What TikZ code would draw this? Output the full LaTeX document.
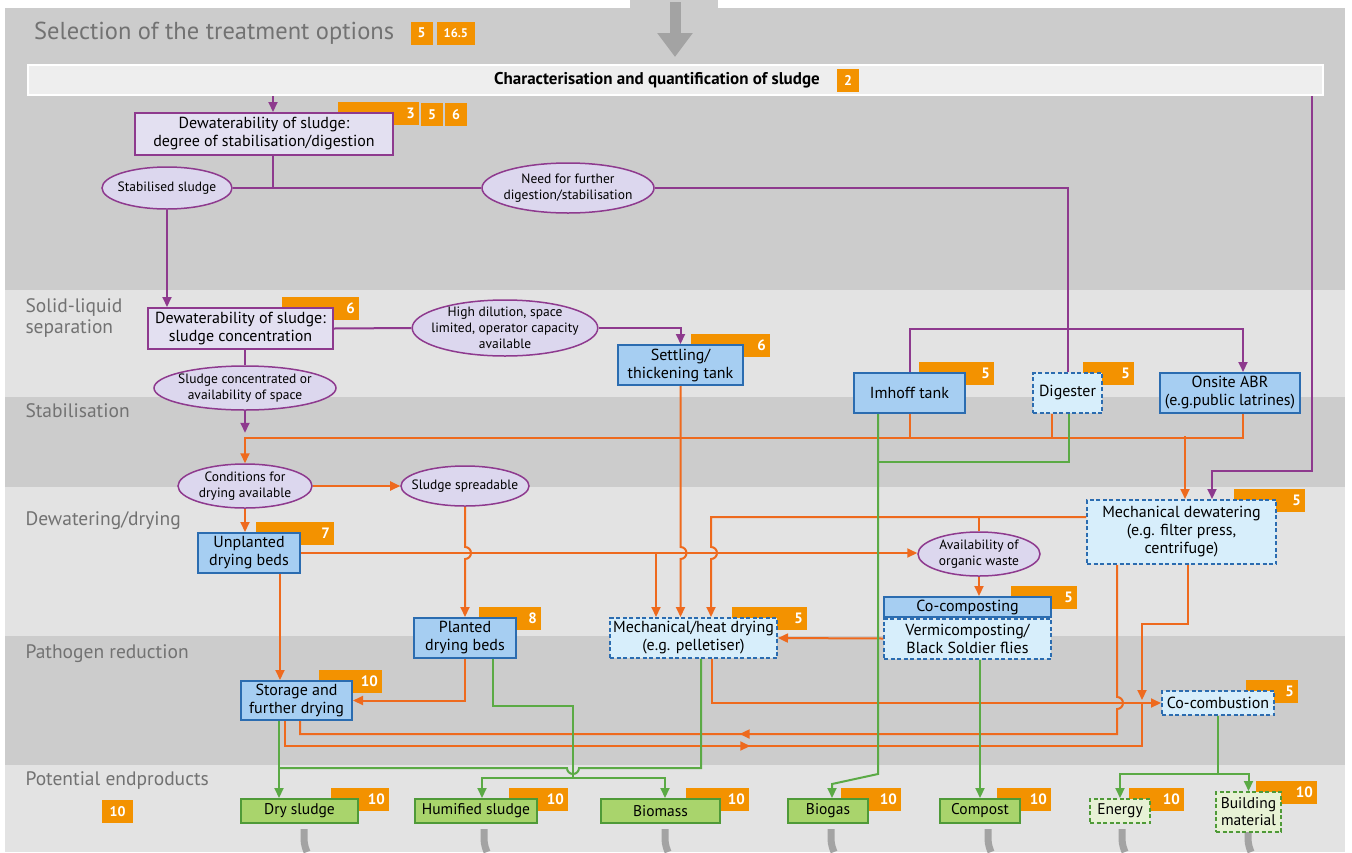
\documentclass[tikz,border=0pt]{standalone}
\usepackage{fontspec}
\setmainfont{PT Sans}
\usetikzlibrary{shapes.geometric,arrows.meta,calc,positioning,decorations.markings}

\definecolor{purp}{HTML}{8E3A8E}
\definecolor{lav}{HTML}{E3E0F1}
\definecolor{lavell}{HTML}{DCD7EE}
\definecolor{orl}{HTML}{EE6A1E}
\definecolor{tabc}{HTML}{F39200}
\definecolor{bluef}{HTML}{A6CEF2}
\definecolor{blued}{HTML}{2B6CB0}
\definecolor{bluel}{HTML}{D7EEFB}
\definecolor{grn}{HTML}{5BAA45}
\definecolor{grnf}{HTML}{A9D46C}
\definecolor{grnd}{HTML}{4F9A38}
\definecolor{grnl}{HTML}{E7F2D5}
\definecolor{bandd}{HTML}{CCCCCC}
\definecolor{bandl}{HTML}{E3E3E3}
\definecolor{lbl}{HTML}{727272}
\definecolor{pipe}{HTML}{A3A3A3}

\pgfdeclarelayer{bg}
\pgfdeclarelayer{tabs}
\pgfsetlayers{bg,tabs,main}

% orange chapter tab behind a box: node, number, width, right offset
\newcommand\numtab[4]{%
  \begin{pgfonlayer}{tabs}
    \fill[tabc] ($(#1.north east)+(#4-#3,-10)$) rectangle ($(#1.north east)+(#4,13)$);
    \node[tabtxt, anchor=east] at ($(#1.north east)+(#4-4,1.5)$) {#2};
  \end{pgfonlayer}}

\begin{document}
\begin{tikzpicture}[x=1pt, y=-1pt,
    box/.style={rectangle, line width=2pt, align=center, inner sep=1pt, font=\fontsize{16}{18}\selectfont},
    pbox/.style={box, draw=purp, fill=lav},
    bbox/.style={box, draw=blued, fill=bluef},
    dbox/.style={box, draw=blued, fill=bluel, dash pattern=on 4pt off 2.5pt},
    gbox/.style={box, draw=grnd, fill=grnf, font=\fontsize{15.5}{17}\selectfont},
    gdbox/.style={box, draw=grnd, fill=grnl, dash pattern=on 4pt off 2.5pt, font=\fontsize{15.5}{17}\selectfont},
    oval/.style={ellipse, draw=purp, fill=lavell, line width=1.5pt, align=center, inner xsep=-8pt, inner ysep=-5pt, font=\fontsize{13.5}{16}\selectfont},
    tabtxt/.style={text=white, font=\bfseries\fontsize{15}{15}\selectfont, inner sep=0pt},
    sq/.style={fill=tabc, text=white, font=\bfseries\fontsize{14}{14}\selectfont, minimum height=23pt, minimum width=22pt, inner sep=2pt},
    band/.style={font=\fontsize{19.5}{21}\selectfont, text=lbl, align=left, anchor=west},
    pl/.style={draw=purp, line width=2pt},
    ol/.style={draw=orl, line width=2pt},
    gl/.style={draw=grn, line width=2pt},
    tip/.style={-{Triangle[length=10pt,width=9pt]}},
    midarrow/.style={postaction=decorate, decoration={markings,
        mark=at position #1 with {\arrow{Triangle[length=10pt,width=9pt]}}}}]

  \useasboundingbox (0,0) rectangle (1352,852);

  % bands
  \begin{pgfonlayer}{bg}
    \fill[white] (0,0) rectangle (1352,852);
    \fill[bandd] (5,8) rectangle (1345,290);
    \fill[bandl] (5,290) rectangle (1345,397);
    \fill[bandd] (5,397) rectangle (1345,487);
    \fill[bandl] (5,487) rectangle (1345,636);
    \fill[bandd] (5,636) rectangle (1345,765);
    \fill[bandl] (5,765) rectangle (1345,852);
    \fill[bandd] (630,0) rectangle (718,8);
    \draw[pipe, line width=11pt, -{Triangle[length=24pt,width=34pt]}] (675,2) -- (675,57);
    \foreach \x in {304,484,665,831,988,1122,1248}
      \draw[pipe, line width=7pt] (\x,829) .. controls (\x,844) .. (\x+3,852);
  \end{pgfonlayer}

  \node[band] (lsl) at (22,318) {Solid-liquid\\separation};
  \node[band] (lst) at (22,411) {Stabilisation};
  \node[band] (ldw) at (22,521) {Dewatering/drying};
  \node[band] (lpr) at (22,654) {Pathogen reduction};
  \node[band] (lpe) at (22,781) {Potential endproducts};
  \node[sq, minimum width=31pt] (s10) at (117.5,811.5) {10};

  % title
  \node[anchor=west, font=\fontsize{24.5}{27}\selectfont, text=lbl, inner sep=0pt] (title) at (34,33) {Selection of the treatment options};
  \node[sq, right=16pt of title] (t5) {5};
  \node[sq, right=4pt of t5, minimum width=38pt, font=\bfseries\fontsize{12.5}{12.5}\selectfont] (t165) {16.5};

  % characterisation
  \node[fill=bandl!60, draw=white, line width=2pt, minimum width=1295pt, minimum height=30pt] (char) at (675.5,80) {};
  \node[anchor=east, font=\bfseries\fontsize{17}{19}\selectfont, inner sep=0pt] (chartxt) at (820,80) {Characterisation and quantification of sludge};
  \node[sq] (c2) at (848,80) {2};

  % boxes and ovals
  \node[pbox, minimum width=258pt, minimum height=42pt] (dewat1) at (264,134) {Dewaterability of sludge:\\degree of stabilisation/digestion};
  \node[sq] (d5) at (432,114.5) {5};
  \node[sq] (d6) at (456,114.5) {6};
  \node[oval, minimum width=130pt, minimum height=42pt] (stab) at (167,188) {Stabilised sludge};
  \node[oval, minimum width=172pt, minimum height=50pt] (need) at (568,188) {Need for further\\digestion/stabilisation};
  \node[pbox, minimum width=185pt, minimum height=41pt] (dewat2) at (240.5,328.5) {Dewaterability of sludge:\\sludge concentration};
  \node[oval, minimum width=182pt, minimum height=56pt] (dilution) at (505,328) {High dilution, space\\limited, operator capacity\\available};
  \node[oval, minimum width=182pt, minimum height=44pt] (conc) at (245,388) {Sludge concentrated or\\availability of space};
  \node[bbox, minimum width=125pt, minimum height=40pt] (settle) at (680.5,365) {Settling/\\thickening tank};
  \node[bbox, minimum width=111pt, minimum height=40pt] (imhoff) at (909.5,393) {Imhoff tank};
  \node[dbox, minimum width=69pt, minimum height=40pt] (digester) at (1067.5,393) {Digester};
  \node[bbox, minimum width=140pt, minimum height=40pt] (abr) at (1230,393) {Onsite ABR\\(e.g.public latrines)};
  \node[oval, minimum width=134pt, minimum height=44pt] (cond) at (245,486) {Conditions for\\drying available};
  \node[oval, minimum width=128pt, minimum height=40pt] (spread) at (465,486) {Sludge spreadable};
  \node[bbox, minimum width=102pt, minimum height=40pt] (unpl) at (249,553) {Unplanted\\drying beds};
  \node[dbox, minimum width=189pt, minimum height=64pt] (mdew) at (1181.5,532) {Mechanical dewatering\\(e.g. filter press,\\centrifuge)};
  \node[oval, minimum width=122pt, minimum height=44pt] (organic) at (979,554) {Availability of\\organic waste};
  \node[bbox, minimum width=102pt, minimum height=40pt] (planted) at (465,638) {Planted\\drying beds};
  \node[dbox, minimum width=167pt, minimum height=40pt] (mdry) at (693.5,638) {Mechanical/heat drying\\(e.g. pelletiser)};
  \node[bbox, minimum width=167pt, minimum height=20pt] (cocomp) at (967.5,607) {Co-composting};
  \node[dbox, minimum width=167pt, minimum height=40pt] (vermi) at (967.5,638.5) {Vermicomposting/\\Black Soldier flies};
  \node[bbox, minimum width=111pt, minimum height=39pt] (storage) at (296.5,700.5) {Storage and\\further drying};
  \node[dbox, minimum width=112pt, minimum height=24pt] (cocomb) at (1218,703) {Co-combustion};

  % endproducts
  \node[gbox, minimum width=117pt, minimum height=24pt] (dry) at (299.5,811) {Dry sludge};
  \node[gbox, minimum width=122pt, minimum height=24pt] (humified) at (476,811) {Humified sludge};
  \node[gbox, minimum width=119pt, minimum height=24pt] (biomass) at (660.5,811) {Biomass};
  \node[gbox, minimum width=80pt, minimum height=24pt] (biogas) at (828,811) {Biogas};
  \node[gbox, minimum width=80pt, minimum height=24pt] (compost) at (980,811) {Compost};
  \node[gdbox, minimum width=60pt, minimum height=24pt] (energy) at (1120,811) {Energy};
  \node[gdbox, minimum width=65pt, minimum height=40pt] (building) at (1248.5,812) {Building\\material};

  % tabs
  \numtab{dewat1}{3}{81}{25}
  \numtab{dewat2}{6}{77}{25}
  \numtab{settle}{6}{79}{26}
  \numtab{imhoff}{5}{75}{28}
  \numtab{digester}{5}{51}{31}
  \numtab{unpl}{7}{78}{33}
  \numtab{mdew}{5}{71}{28}
  \numtab{planted}{8}{62}{24}
  \numtab{mdry}{5}{75}{29}
  \numtab{cocomp}{5}{66}{25}
  \numtab{storage}{10}{63}{29}
  \numtab{cocomb}{5}{52}{23}
  \numtab{dry}{10}{58}{30}
  \numtab{humified}{10}{59}{30}
  \numtab{biomass}{10}{63}{28}
  \numtab{biogas}{10}{60}{32}
  \numtab{compost}{10}{54}{30}
  \numtab{energy}{10}{55}{33}
  \numtab{building}{10}{61}{35}

  % purple decisions
  \draw[pl, tip] ($(char.south -| dewat1.north)+(9,0)$) -- ($(dewat1.north)+(9,0)$);
  \draw[pl] ($(dewat1.south)+(9,0)$) -- ($(dewat1.south |- stab.east)+(9,0)$);
  \draw[pl] (stab.east) -- (need.west);
  \draw[pl] (need.east) -| (digester.north);
  \draw[pl, tip] (stab.south) -- (stab.south |- dewat2.north);
  \draw[pl] (dewat2.east) -- (dilution.west);
  \draw[pl, tip] (dilution.east) -| (settle.north);
  \draw[pl] (dewat2.south -| conc.north) -- (conc.north);
  \draw[pl, tip] (conc.south) -- ++(0,22);
  \draw[pl, tip] (imhoff.north) -- ++(0,-43) -| ($(abr.north)+(13,0)$);
  \draw[pl, tip] ($(char.south east)+(-12,0)$) -- ++(0,375) -| ($(mdew.north)+(30.5,0)$);

  % orange sludge flows
  \draw[ol, tip] ($(abr.south)+(13,0)$) -- ++(0,24) -| (cond.north);
  \draw[ol] (imhoff.south) -- ++(0,24);
  \draw[ol] ($(digester.south)+(-16,0)$) -- ++(0,24);
  \draw[ol, tip] ($(mdew.north)+(3.5,-63)$) -- ($(mdew.north)+(3.5,0)$);
  \draw[ol, tip] (cond.east) -- (spread.west);
  \draw[ol, tip] (cond.south) -- (cond.south |- unpl.north);
  \draw[ol, tip] (unpl.east) -- (unpl.east -| organic.west);
  \draw[ol, tip] ($(mdry.north |- unpl.east)+(-37.5,0)$) -- ($(mdry.north)+(-37.5,0)$);
  \draw[ol, tip] (spread.south) -- ($(spread.south |- unpl.east)+(0,-6)$)
    arc[start angle=-90, end angle=90, radius=6] -- (planted.north);
  \draw[ol, tip] (settle.south) -- ($(settle.south |- unpl.east)+(0,-6)$)
    arc[start angle=-90, end angle=90, radius=6] -- (settle.south |- mdry.north);
  \draw[ol, tip] ($(mdew.north west)+(0,18)$) -- ($(mdry.north)+(17.5,-100)$)
    -- ($(mdry.north |- unpl.east)+(17.5,-6)$) arc[start angle=-90, end angle=90, radius=6]
    -- ($(mdry.north)+(17.5,0)$);
  \draw[ol] (organic.north) -- ++(0,-14);
  \draw[ol, tip] (organic.south) -- (organic.south |- cocomp.north);
  \draw[ol, tip] (vermi.west) -- (mdry.east);
  \draw[ol, tip] ($(unpl.south)+(31,0)$) coordinate (u1) -- (u1 |- storage.north);
  \draw[ol, tip] (planted.south) |- (storage.east);
  \draw[ol, midarrow=0.55] ($(mdew.south west)+(31,0)$) coordinate (m1)
    -- ($(m1 |- cocomb.west)+(0,-6)$) arc[start angle=-90, end angle=90, radius=6]
    -- ($(m1 |- storage.south)+(0,13)$) -- ($(storage.south)+(3.5,13)$) -- ($(storage.south)+(3.5,0)$);
  \draw[ol, midarrow=0.53] ($(storage.south)+(-11.5,0)$) -- ++(0,25) -| ($(cocomb.west)+(-19,0)$);
  \draw[ol, tip] ($(mdew.south)+(6.5,0)$) -- ++(0,59) -| ($(cocomb.west)+(-19,-3)$);
  \draw[ol, tip] ($(mdry.south)+(18.5,0)$) |- (cocomb.west);

  % green endproduct flows
  \coordinate (gk) at (573,768);
  \coordinate (gj) at (573,778);
  \draw[gl, tip] ($(imhoff.south)+(-31.5,0)$) coordinate (g1) -- ($(g1 |- biogas.north)+(0,-24)$)
    -- ($(biogas.north)+(4,-14)$) -- ($(biogas.north)+(4,0)$);
  \draw[gl] ($(digester.south)+(1.5,0)$) |- ($(g1)+(0,48)$);
  \draw[gl, tip] (compost.north |- vermi.south) -- (compost.north);
  \draw[gl, tip] (cocomb.south) -- ++(0,58) coordinate (g2) -| (energy.north);
  \draw[gl, tip] (g2) -| (building.north);
  \draw[gl, tip] ($(storage.south)+(-17.5,0)$) coordinate (sg) -- (sg |- dry.north);
  \draw[gl] ($(mdry.south)+(7.5,0)$) |- ($(gk)+(6,0)$)
    arc[start angle=0, end angle=180, radius=6] -- (gk -| sg);
  \draw[gl] ($(planted.south)+(28,0)$) |- ($(gk)+(0,-62)$) -- (gj);
  \draw[gl, tip] (gj) -| ($(humified.north)+(6,0)$);
  \draw[gl, tip] (gj) -| ($(biomass.north)+(4.5,0)$);
\end{tikzpicture}
\end{document}
